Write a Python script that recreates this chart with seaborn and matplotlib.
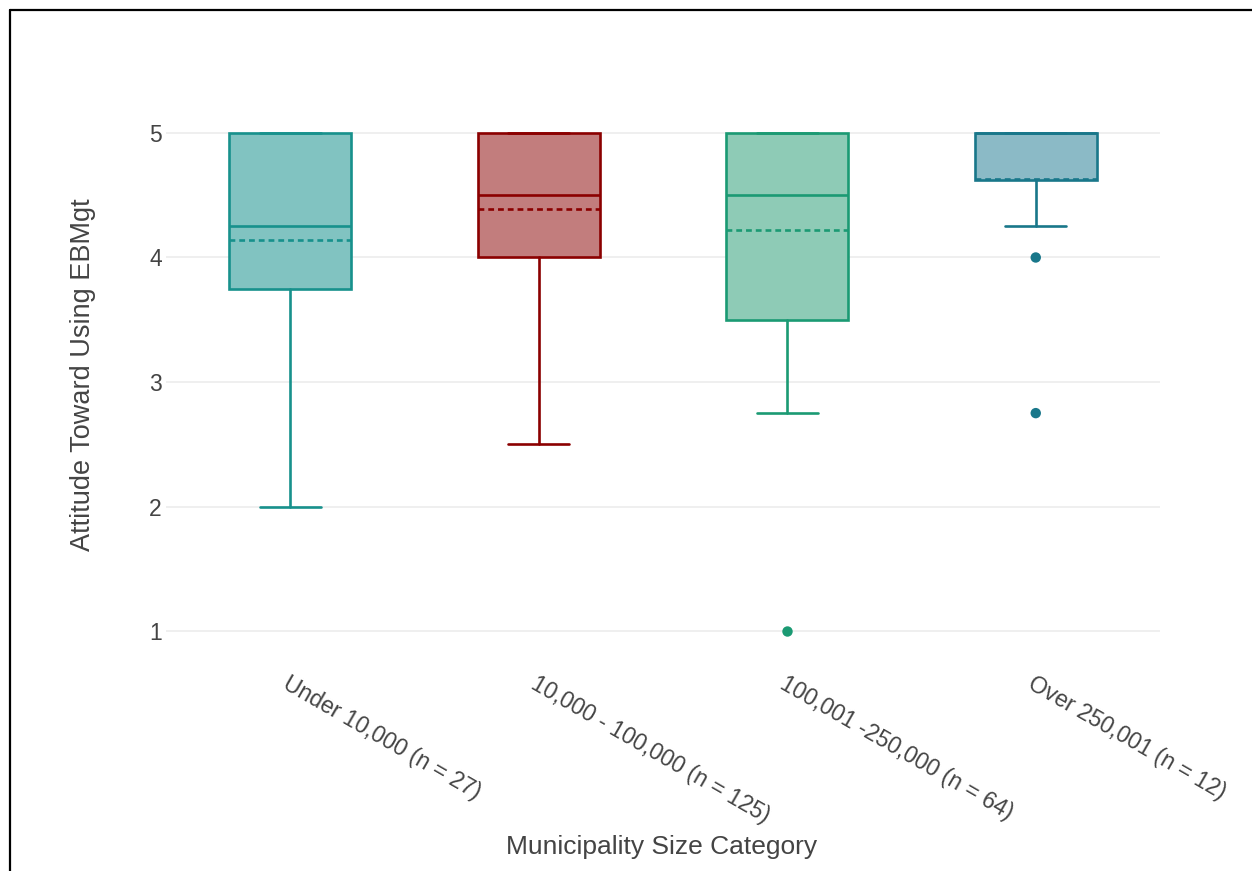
import matplotlib
matplotlib.use("Agg")
import matplotlib.pyplot as plt
from matplotlib.lines import Line2D
import seaborn as sns
import pandas as pd

categories = ["Under 10,000 (n = 27)", "10,000 - 100,000 (n = 125)",
              "100,001 -250,000 (n = 64)", "Over 250,001 (n = 12)"]
q1 = [3.75, 4.0, 3.5, 4.625]
median = [4.25, 4.5, 4.5, 5.0]
q3 = [5.0, 5.0, 5.0, 5.0]
whisker_low = [2.0, 2.5, 2.75, 4.25]
whisker_high = [5.0, 5.0, 5.0, 5.0]
mean = [4.14, 4.39, 4.22, 4.63]
outliers = [[], [], [1.0], [4.0, 2.75]]

line_colors = ["#17918c", "#8b0000", "#1b9a73", "#19778a"]
fill_colors = ["#81c3c1", "#c27d7d", "#8ecbb6", "#8bbac6"]

sns.set_theme(style="white")
plt.rcParams['font.family'] = ['Liberation Sans', 'DejaVu Sans']

fig = plt.figure(figsize=(12.52, 8.71), dpi=100)
L, W = 166, 994
ax = fig.add_axes([L/1252, 1-660/871, W/1252, 560/871])

# outliers via seaborn
out_rows = [(categories[i], v) for i in range(len(categories)) for v in outliers[i]]
out_df = pd.DataFrame(out_rows, columns=["cat", "val"])
out_df["cat"] = pd.Categorical(out_df["cat"], categories=categories)
sns.stripplot(data=out_df, x="cat", y="val", hue="cat", palette=line_colors,
              order=categories, hue_order=categories, jitter=False, size=7.5,
              linewidth=0, legend=False, ax=ax, zorder=5)

lw = 1.9
for i in range(len(categories)):
    st = dict(q1=q1[i], med=median[i], q3=q3[i], whislo=whisker_low[i],
              whishi=whisker_high[i], mean=mean[i], fliers=[])
    c = line_colors[i]
    ax.bxp([st], positions=[i], widths=0.49, patch_artist=True,
           showmeans=True, meanline=True, showfliers=False,
           boxprops=dict(facecolor=fill_colors[i], edgecolor=c, linewidth=lw),
           medianprops=dict(color=c, linewidth=lw),
           meanprops=dict(color=c, linewidth=lw, linestyle=(0, (2.2, 1.5))),
           whiskerprops=dict(color=c, linewidth=lw),
           capprops=dict(color=c, linewidth=lw),
           capwidths=0.245, manage_ticks=False)

ax.set_xlim(-0.5, 3.5)
ax.set_ylim(1 - 29/124.6, 5 + 33/124.6)
ax.set_yticks([1, 2, 3, 4, 5])
ax.set_yticklabels(["1", "2", "3", "4", "5"], fontsize=16.5, color="#444444")
ax.set_xticks(range(len(categories)))
ax.set_xticklabels(categories, rotation=-30, ha="left", va="top",
                   rotation_mode="anchor", fontsize=16.5, color="#444444")
ax.tick_params(axis="x", length=0, pad=9)
ax.tick_params(axis="y", length=0, pad=3)
ax.grid(axis="y", color="#eeeeee", linewidth=1.3)
ax.set_axisbelow(True)
for s in ax.spines.values():
    s.set_visible(False)
ax.set_xlabel("Municipality Size Category", fontsize=19, color="#444444")
ax.set_ylabel("Attitude Toward Using EBMgt", fontsize=19.5, color="#444444")
ax.xaxis.set_label_coords((662-L)/W, -(835-660)/560)
ax.yaxis.set_label_coords((96-L)/W, 1-(375-100)/560)

# screenshot frame
fig.add_artist(Line2D([10/1252, 10/1252], [0, 1-10/871], color="black", linewidth=1.6, transform=fig.transFigure))
fig.add_artist(Line2D([10/1252, 1], [1-10/871, 1-10/871], color="black", linewidth=1.6, transform=fig.transFigure))

fig.savefig("out.png", dpi=100)
